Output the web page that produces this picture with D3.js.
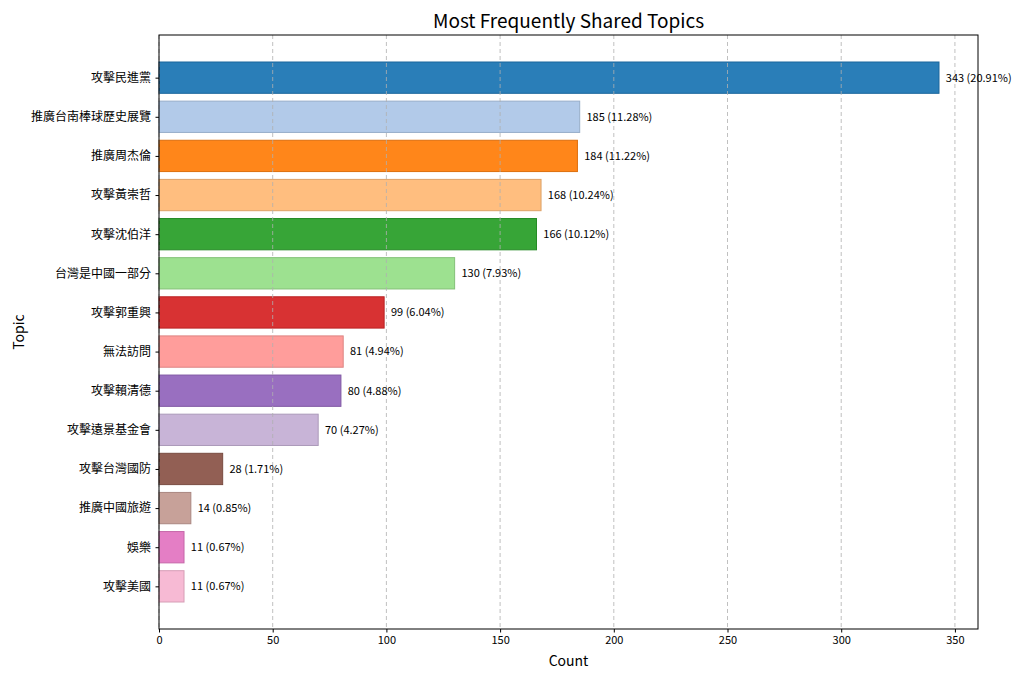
<!DOCTYPE html>
<html>
<head>
<meta charset="utf-8">
<script src="https://cdn.jsdelivr.net/npm/d3@7"></script>
<style>
  body { margin: 0; background: #fff; }
  text { font-family: "Noto Sans CJK TC", "Noto Sans", sans-serif; }
</style>
</head>
<body>
<svg id="chart" width="1024" height="682"></svg>
<script>
const topics = ["攻擊民進黨", "推廣台南棒球歷史展覽", "推廣周杰倫", "攻擊黃崇哲", "攻擊沈伯洋",
  "台灣是中國一部分", "攻擊郭重興", "無法訪問", "攻擊賴清德", "攻擊遠景基金會",
  "攻擊台灣國防", "推廣中國旅遊", "娛樂", "攻擊美國"];
const counts = [343, 185, 184, 168, 166, 130, 99, 81, 80, 70, 28, 14, 11, 11];
const percents = [20.91, 11.28, 11.22, 10.24, 10.12, 7.93, 6.04, 4.94, 4.88, 4.27, 1.71, 0.85, 0.67, 0.67];
const colors = ["#1f77b4", "#aec7e8", "#ff7f0e", "#ffbb78", "#2ca02c", "#98df8a", "#d62728",
  "#ff9896", "#9467bd", "#c5b0d5", "#8c564b", "#c49c94", "#e377c2", "#f7b6d2"];
const xTicks = [0, 50, 100, 150, 200, 250, 300, 350];

const svg = d3.select("#chart"),
      margin = {top: 35, right: 46, bottom: 53, left: 159};
const width = +svg.attr("width"), height = +svg.attr("height");

const n = topics.length;
const barH = 0.8;
const xMax = d3.max(counts) * 1.05;
const yPad = (n - 1 + barH) * 0.05;

const x = d3.scaleLinear().domain([0, xMax]).range([margin.left, width - margin.right]);
const y = d3.scaleLinear().domain([-barH / 2 - yPad, n - 1 + barH / 2 + yPad])
  .range([margin.top, height - margin.bottom]);

const data = topics.map((t, i) => ({topic: t, count: counts[i], pct: percents[i], color: colors[i], i}));

// bars
svg.append("g").selectAll("rect")
  .data(data).join("rect")
  .attr("x", x(0))
  .attr("y", d => y(d.i - barH / 2))
  .attr("width", d => x(d.count) - x(0))
  .attr("height", y(barH) - y(0))
  .attr("fill", d => d.color)
  .attr("fill-opacity", 0.95)
  .attr("stroke", d => d3.color(d.color).darker(0.4))
  .attr("stroke-width", 1);

// vertical grid on top of the bars
svg.append("g").selectAll("line")
  .data(xTicks).join("line")
  .attr("x1", d => x(d)).attr("x2", d => x(d))
  .attr("y1", margin.top).attr("y2", height - margin.bottom)
  .attr("stroke", "#b0b0b0")
  .attr("stroke-width", 0.8)
  .attr("stroke-dasharray", "4,3");

// value labels
svg.append("g").selectAll("text")
  .data(data).join("text")
  .attr("x", d => x(d.count + 3))
  .attr("y", d => y(d.i))
  .attr("dy", "0.35em")
  .attr("font-size", 11)
  .attr("fill", "#000")
  .text(d => `${d.count} (${d.pct.toFixed(2)}%)`);

// axes
const xAxis = d3.axisBottom(x).tickValues(xTicks).tickSize(3.5).tickPadding(3.5);
const gx = svg.append("g")
  .attr("transform", `translate(0,${height - margin.bottom})`)
  .call(xAxis);
gx.select(".domain").remove();
gx.selectAll("text").attr("font-size", 11).attr("fill", "#000").attr("font-family", "'Noto Sans CJK TC', sans-serif");

const yAxis = d3.axisLeft(y).tickValues(d3.range(n)).tickFormat(i => topics[i]).tickSize(3.5).tickPadding(4.5);
const gy = svg.append("g")
  .attr("transform", `translate(${margin.left},0)`)
  .call(yAxis);
gy.select(".domain").remove();
gy.selectAll("text").attr("font-size", 12).attr("fill", "#000").attr("font-family", "'Noto Sans CJK TC', sans-serif");

// frame
svg.append("rect")
  .attr("x", margin.left).attr("y", margin.top)
  .attr("width", width - margin.left - margin.right)
  .attr("height", height - margin.top - margin.bottom)
  .attr("fill", "none")
  .attr("stroke", "#000")
  .attr("stroke-width", 1);

// title and axis labels
svg.append("text")
  .attr("x", (margin.left + width - margin.right) / 2)
  .attr("y", 28)
  .attr("text-anchor", "middle")
  .attr("font-size", 19)
  .text("Most Frequently Shared Topics");

svg.append("text")
  .attr("x", (margin.left + width - margin.right) / 2)
  .attr("y", 666)
  .attr("text-anchor", "middle")
  .attr("font-size", 14)
  .text("Count");

svg.append("text")
  .attr("transform", "rotate(-90)")
  .attr("x", -(margin.top + height - margin.bottom) / 2)
  .attr("y", 24)
  .attr("text-anchor", "middle")
  .attr("font-size", 14)
  .text("Topic");
</script>
</body>
</html>
